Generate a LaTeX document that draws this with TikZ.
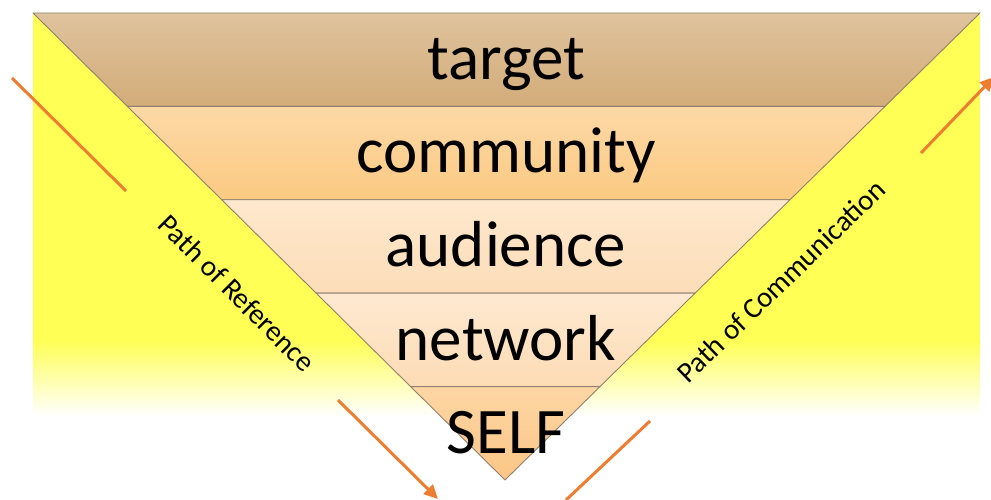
\documentclass[tikz,border=0pt]{standalone}
\usepackage{fontspec}
\setmainfont{Carlito}
\usetikzlibrary{calc,arrows.meta}
\definecolor{bandAt}{HTML}{DFC39D}\definecolor{bandAb}{HTML}{D3AC79}
\definecolor{bandBt}{HTML}{FDD8A6}\definecolor{bandBb}{HTML}{FBCA82}
\definecolor{bandCt}{HTML}{FEE8CD}\definecolor{bandCb}{HTML}{FDDDB8}
\definecolor{bandDt}{HTML}{FEE9D1}\definecolor{bandDb}{HTML}{FDDCB5}
\definecolor{bandEt}{HTML}{FDD6A4}\definecolor{bandEb}{HTML}{FBC686}
\definecolor{pathyellow}{HTML}{FFFF55}
\definecolor{edgegray}{HTML}{8F8070}
\definecolor{arroworange}{HTML}{ED7D31}
\tikzset{
  band/.style={draw=edgegray, line width=0.9pt, line join=round},
  biglabel/.style={font=\fontsize{65}{70}\selectfont, anchor=base, inner sep=0pt},
  pathlabel/.style={font=\fontsize{29}{32}\selectfont, inner sep=0pt},
  orangeline/.style={draw=arroworange, line width=3pt},
  orangearrow/.style={orangeline, -{Triangle[length=14pt,width=13pt]}}
}
\begin{document}
\begin{tikzpicture}[x=1pt,y=-1pt]
\useasboundingbox (0,0) rectangle (991,500);
\fill[white] (0,0) rectangle (991,500);
% yellow background with fade
\fill[pathyellow] (33,13) rectangle (980,341);
\shade[top color=pathyellow, bottom color=white] (33,340) rectangle (980,416);
% triangle corners
\coordinate (TL) at (33,13);
\coordinate (TR) at (980,13);
\coordinate (AP) at (505,480);
\foreach \k in {0,...,4}{
  \coordinate (L\k) at ($(TL)!\k/5!(AP)$);
  \coordinate (R\k) at ($(TR)!\k/5!(AP)$);
}
% bands
\shade[band, top color=bandAt, bottom color=bandAb] (L0) -- (R0) -- (R1) -- (L1) -- cycle;
\shade[band, top color=bandBt, bottom color=bandBb] (L1) -- (R1) -- (R2) -- (L2) -- cycle;
\shade[band, top color=bandCt, bottom color=bandCb] (L2) -- (R2) -- (R3) -- (L3) -- cycle;
\shade[band, top color=bandDt, bottom color=bandDb] (L3) -- (R3) -- (R4) -- (L4) -- cycle;
\shade[band, top color=bandEt, bottom color=bandEb] (L4) -- (R4) -- (AP) -- cycle;
% labels
\node[biglabel] (target) at (506,80) {target};
\node[biglabel] (community) at (506,173) {community};
\node[biglabel] (audience) at (506,266) {audience};
\node[biglabel] (network) at (506,360) {network};
\node[biglabel] (self) at (506,453) {SELF};
\node[pathlabel, rotate=-45] (reference) at (237,293) {Path of Reference};
\node[pathlabel, rotate=44] (communication) at (781,281) {Path of Communication};
% orange arrows
\coordinate (a1s) at (12,78);  \coordinate (a1e) at (126,191);
\coordinate (a2s) at (338,400); \coordinate (a2e) at (438,499);
\coordinate (b1s) at (566,500); \coordinate (b1e) at (650,421);
\coordinate (b2s) at (921,153); \coordinate (b2e) at (994,77);
\draw[orangeline] (a1s) -- (a1e);
\draw[orangearrow] (a2s) -- (a2e);
\draw[orangeline] (b1s) -- (b1e);
\draw[orangearrow] (b2s) -- (b2e);
\end{tikzpicture}
\end{document}
